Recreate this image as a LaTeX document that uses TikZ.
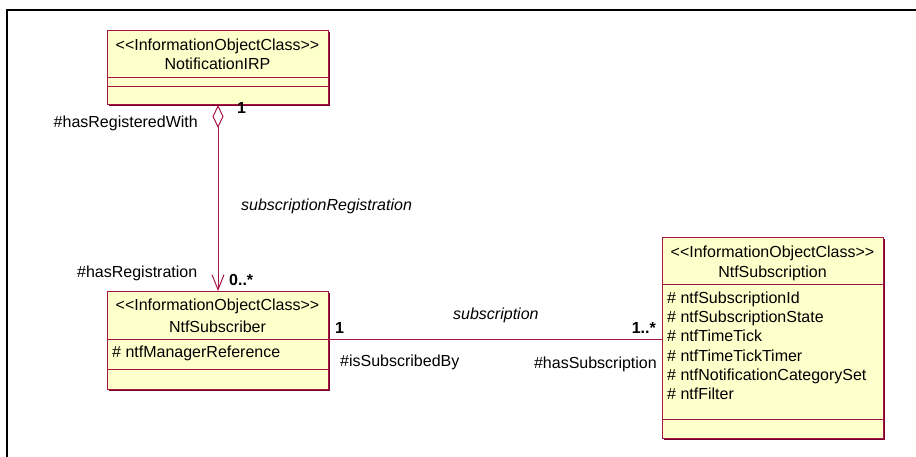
\documentclass[tikz,border=0pt]{standalone}
\usepackage{fontspec}
\setmainfont{Liberation Sans}
\usetikzlibrary{arrows.meta,shadows}
\definecolor{umlfill}{RGB}{255,255,204}
\definecolor{umlline}{RGB}{165,20,70}
\definecolor{umldark}{RGB}{120,0,40}
\begin{document}
\begin{tikzpicture}[x=1pt,y=-1pt,
  every node/.style={font=\fontsize{16}{19}\selectfont, inner sep=0pt, text=black},
  classbox/.style={draw=umlline, fill=umlfill, line width=1pt, anchor=north west,
    drop shadow={shadow xshift=1.2pt, shadow yshift=-1.2pt, fill=umldark, opacity=1}},
  comp/.style={draw=umlline, line width=1pt},
  conn/.style={draw=umlline, line width=1pt},
  lbl/.style={anchor=base west},
  mult/.style={anchor=base west, font=\fontsize{16}{19}\selectfont\bfseries},
  role/.style={anchor=base west},
  assocname/.style={anchor=base west, font=\fontsize{16}{19}\selectfont\itshape}]
\useasboundingbox (0,0) rectangle (916,457);
% frame
\draw[line width=2pt] (7,457) -- (7,10) -- (916,10);

% classes
\node[classbox, minimum width=221pt, minimum height=74pt] (irp) at (107,30) {};
\node[classbox, minimum width=221pt, minimum height=98pt] (sub) at (107,291) {};
\node[classbox, minimum width=221pt, minimum height=201pt] (subn) at (662,237) {};

\draw[comp] ([yshift=-48pt]irp.north west) -- ([yshift=-48pt]irp.north east);
\draw[comp] ([yshift=-57pt]irp.north west) -- ([yshift=-57pt]irp.north east);
\draw[comp] ([yshift=-48pt]sub.north west) -- ([yshift=-48pt]sub.north east);
\draw[comp] ([yshift=-78pt]sub.north west) -- ([yshift=-78pt]sub.north east);
\draw[comp] ([yshift=-48pt]subn.north west) -- ([yshift=-48pt]subn.north east);
\draw[comp] ([yshift=-182pt]subn.north west) -- ([yshift=-182pt]subn.north east);

% class texts
\node[anchor=base] (irpst) at (217.5,51) {<\kern0pt<InformationObjectClass>\kern0pt>};
\node[anchor=base] (irpnm) at (217.5,70) {NotificationIRP};
\node[anchor=base] (subst) at (217.5,310) {<\kern0pt<InformationObjectClass>\kern0pt>};
\node[anchor=base] (subnm) at (217.5,332) {NtfSubscriber};
\node[lbl] (suba1) at (112,357) {\# ntfManagerReference};
\node[anchor=base] (subnst) at (772.5,258) {<\kern0pt<InformationObjectClass>\kern0pt>};
\node[anchor=base] (subnnm) at (772.5,278) {NtfSubscription};
\node[lbl] (subna1) at (667,303) {\# ntfSubscriptionId};
\node[lbl] (subna2) at (667,322.3) {\# ntfSubscriptionState};
\node[lbl] (subna3) at (667,341.6) {\# ntfTimeTick};
\node[lbl] (subna4) at (667,361) {\# ntfTimeTickTimer};
\node[lbl] (subna5) at (667,380.3) {\# ntfNotificationCategorySet};
\node[lbl] (subna6) at (667,399.6) {\# ntfFilter};

% aggregation
\draw[conn, {Diamond[open,length=23pt,width=11pt,line width=1pt]}-{Straight Barb[length=15pt,width=12pt,line width=1pt]}]
  (irp.south) -- (sub.north);
\node[mult] (m1) at (237,114) {1};
\node[role, anchor=base east] (r1) at (198,128) {\#hasRegisteredWith};
\node[assocname] (a1) at (241,211) {subscriptionRegistration};
\node[role] (r2) at (77,277) {\#hasRegistration};
\node[mult] (m2) at (229,286) {0..*};

% association
\coordinate (pA) at ([yshift=-48pt]sub.north east);
\coordinate (pB) at (subn.west |- pA);
\draw[conn] (pA) -- (pB);
\node[mult] (m3) at (335,333) {1};
\node[assocname] (a2) at (453,319) {subscription};
\node[mult, anchor=base east] (m4) at (656,333) {1..*};
\node[role] (r3) at (340,366) {\#isSubscribedBy};
\node[role, anchor=base east] (r4) at (657,368) {\#hasSubscription};
\end{tikzpicture}
\end{document}
